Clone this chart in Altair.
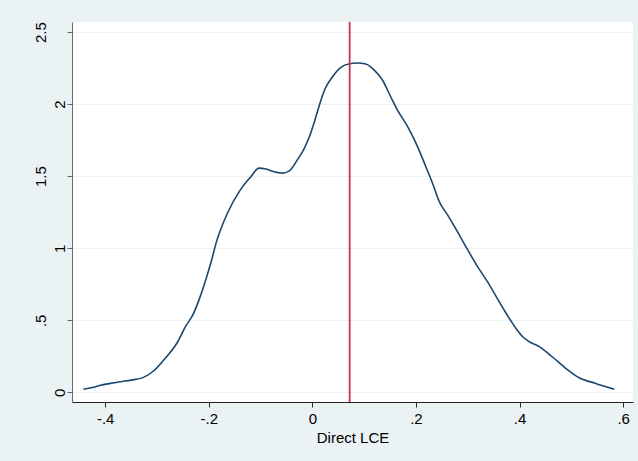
import altair as alt
import pandas as pd

# Kernel density curve
x_vals = [-0.442, -0.425, -0.409, -0.390, -0.371, -0.350, -0.326, -0.306, -0.287, -0.261,
          -0.245, -0.229, -0.219, -0.210, -0.197, -0.184, -0.164, -0.139, -0.119, -0.103,
          -0.090, -0.081, -0.058, -0.045, -0.029, -0.016, -0.005, 0.005, 0.015, 0.025,
          0.038, 0.055, 0.072, 0.087, 0.103, 0.119, 0.135, 0.151, 0.164, 0.184,
          0.200, 0.219, 0.232, 0.245, 0.261, 0.280, 0.300, 0.319, 0.338, 0.355,
          0.374, 0.393, 0.406, 0.419, 0.438, 0.463, 0.489, 0.515, 0.547, 0.583]
y_vals = [0.021, 0.033, 0.049, 0.062, 0.074, 0.085, 0.104, 0.150, 0.224, 0.344,
          0.456, 0.550, 0.640, 0.733, 0.885, 1.058, 1.243, 1.405, 1.495, 1.556,
          1.550, 1.539, 1.521, 1.535, 1.613, 1.690, 1.780, 1.890, 2.010, 2.110,
          2.185, 2.255, 2.280, 2.285, 2.278, 2.238, 2.169, 2.053, 1.960, 1.844,
          1.729, 1.567, 1.451, 1.324, 1.231, 1.115, 0.988, 0.872, 0.768, 0.664,
          0.549, 0.444, 0.386, 0.351, 0.317, 0.247, 0.167, 0.101, 0.062, 0.021]

vline_x = [0.072]

x_ticks = [-0.4, -0.2, 0.0, 0.2, 0.4, 0.6]
x_tick_labels = ["-.4", "-.2", "0", ".2", ".4", ".6"]
y_ticks = [0, 0.5, 1, 1.5, 2, 2.5]
y_tick_labels = ["0", ".5", "1", "1.5", "2", "2.5"]

x_title = "Direct LCE"

df = pd.DataFrame({"x": x_vals, "y": y_vals})
df_v = pd.DataFrame({"x": vline_x})


def key(v):
    v = float(v)
    return str(int(v)) if v == int(v) else repr(v)


def lookup_expr(values, labels):
    pairs = ", ".join("'%s': '%s'" % (key(v), l) for v, l in zip(values, labels))
    return "{%s}[toString(datum.value)]" % pairs


FONT = "Arial, Liberation Sans, Helvetica, sans-serif"
W, H = 561, 380

xscale = alt.Scale(domain=[-0.464, 0.619], nice=False, zero=False)
yscale = alt.Scale(domain=[-0.067, 2.57], nice=False, zero=False)

x_axis = alt.Axis(
    values=x_ticks, labelExpr=lookup_expr(x_ticks, x_tick_labels), title=x_title,
    grid=False, tickSize=5, labelPadding=4, labelFontSize=15, labelFont=FONT,
    labelColor="#000000", titleFont=FONT, titleFontSize=15, titleFontWeight="normal",
    titleColor="#000000", titleBaseline="alphabetic", titleY=40,
    domainColor="#222222", tickColor="#222222", labelOverlap=False,
)

y_axis = alt.Axis(
    values=y_ticks, labelExpr=lookup_expr(y_ticks, y_tick_labels),
    grid=True, gridColor="#EAF2F3", gridWidth=1.2, tickSize=5, labelAngle=270,
    labelAlign="center", labelBaseline="bottom", labelFontSize=15, labelFont=FONT,
    labelColor="#000000", domainColor="#666666", tickColor="#666666", title=None,
    labelOverlap=False,
    labelPadding={"condition": {"test": "datum.value % 1 !== 0", "value": 19}, "value": 0},
)

curve = alt.Chart(df).mark_line(color="#1a476f", strokeWidth=1.6, interpolate="monotone").encode(
    x=alt.X("x:Q", scale=xscale, axis=x_axis),
    y=alt.Y("y:Q", scale=yscale, axis=y_axis),
)

vline = alt.Chart(df_v).mark_rule(color="#C8324F", strokeWidth=1.8).encode(
    x=alt.X("x:Q", scale=xscale),
)

chart = (
    alt.layer(curve, vline)
    .properties(
        width=W, height=H, background="#EAF2F3",
        autosize=alt.AutoSizeParams(type="none"),
        padding={"left": 72, "top": 22, "right": 5, "bottom": 59},
    )
    .configure_view(stroke=None, fill="#FFFFFF")
)

chart.save("out.html", embed_options={"renderer": "svg", "actions": False})
